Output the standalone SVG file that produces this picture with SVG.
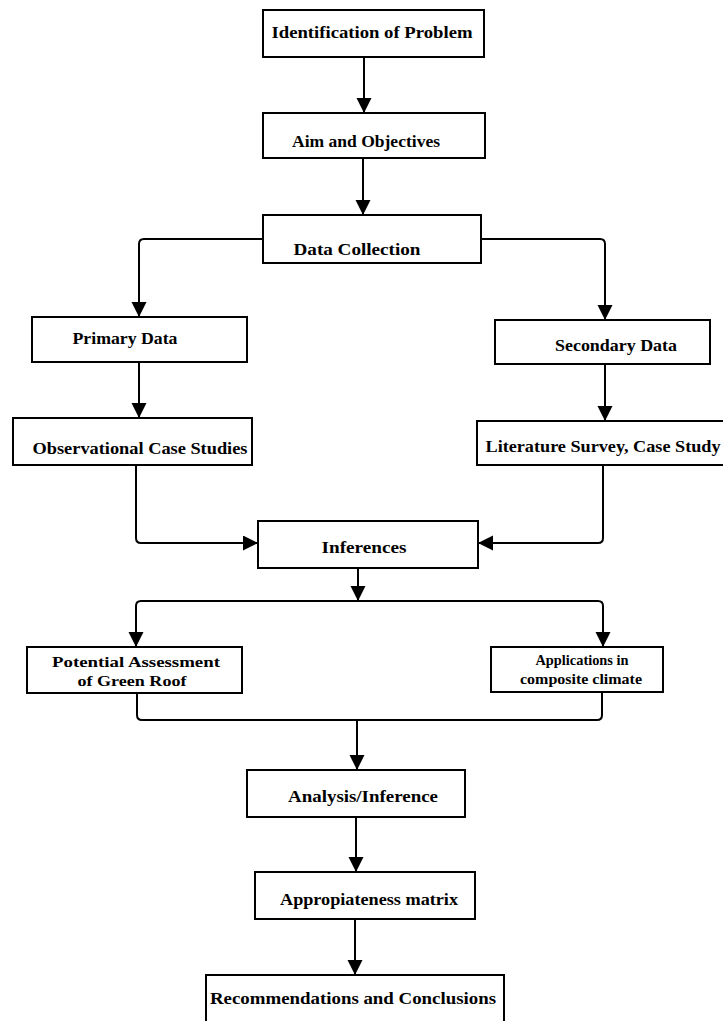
<svg xmlns="http://www.w3.org/2000/svg" width="723" height="1021" viewBox="0 0 723 1021">
<style>
.box{fill:#fff;stroke:#000;stroke-width:2}
.c{fill:none;stroke:#000;stroke-width:2}
.t{font-family:"Liberation Serif","Times New Roman",serif;font-weight:bold;font-size:16px;fill:#000;text-anchor:middle}
.s{font-size:14.5px}
</style>
<defs>
<marker id="ah" markerUnits="userSpaceOnUse" markerWidth="16" markerHeight="16" refX="15" refY="7.5" orient="auto">
<path d="M0,0 L15,7.5 L0,15 Z" fill="#000"/>
</marker>
</defs>
<rect width="723" height="1021" fill="#fff"/>
<g id="connectors">
<path class="c" d="M364,57 V113" marker-end="url(#ah)"/>
<path class="c" d="M363,158 V215" marker-end="url(#ah)"/>
<path class="c" d="M263,239 H144 Q139,239 139,244 V317" marker-end="url(#ah)"/>
<path class="c" d="M481,239 H600 Q605,239 605,244 V320" marker-end="url(#ah)"/>
<path class="c" d="M139,362 V418" marker-end="url(#ah)"/>
<path class="c" d="M605,364 V421" marker-end="url(#ah)"/>
<path class="c" d="M136,465 V538 Q136,543 141,543 H258" marker-end="url(#ah)"/>
<path class="c" d="M603,465 V538 Q603,543 598,543 H478" marker-end="url(#ah)"/>
<path class="c" d="M358,568 V601" marker-end="url(#ah)"/>
<path class="c" d="M358,601 H141 Q136,601 136,606 V647" marker-end="url(#ah)"/>
<path class="c" d="M358,601 H598 Q603,601 603,606 V647" marker-end="url(#ah)"/>
<path class="c" d="M137,693 V715 Q137,720 142,720 H597 Q602,720 602,715 V692"/>
<path class="c" d="M357,720 V770" marker-end="url(#ah)"/>
<path class="c" d="M356,817 V872" marker-end="url(#ah)"/>
<path class="c" d="M355,919 V975" marker-end="url(#ah)"/>
</g>
<g id="n1"><rect class="box" x="263" y="10" width="221" height="47"/><text class="t" x="372" y="38" textLength="201" lengthAdjust="spacingAndGlyphs">Identification of Problem</text></g>
<g id="n2"><rect class="box" x="263" y="113" width="222" height="45"/><text class="t" x="366" y="147" textLength="148" lengthAdjust="spacingAndGlyphs">Aim and Objectives</text></g>
<g id="n3"><rect class="box" x="263" y="215" width="218" height="48"/><text class="t" x="357" y="255" textLength="127" lengthAdjust="spacingAndGlyphs">Data Collection</text></g>
<g id="n4"><rect class="box" x="32" y="317" width="215" height="45"/><text class="t" x="125" y="344" textLength="105" lengthAdjust="spacingAndGlyphs">Primary Data</text></g>
<g id="n5"><rect class="box" x="495" y="320" width="215" height="44"/><text class="t" x="616" y="351" textLength="122" lengthAdjust="spacingAndGlyphs">Secondary Data</text></g>
<g id="n6"><rect class="box" x="13" y="418" width="239" height="47"/><text class="t" x="140" y="454" textLength="215" lengthAdjust="spacingAndGlyphs">Observational Case Studies</text></g>
<g id="n7"><rect class="box" x="477" y="421" width="250" height="44"/><text class="t" x="603" y="452" textLength="235" lengthAdjust="spacingAndGlyphs">Literature Survey, Case Study</text></g>
<g id="n8"><rect class="box" x="258" y="521" width="220" height="47"/><text class="t" x="364" y="553" textLength="85" lengthAdjust="spacingAndGlyphs">Inferences</text></g>
<g id="n9"><rect class="box" x="27" y="647" width="215" height="46"/><text class="t s" x="136" y="667" textLength="168" lengthAdjust="spacingAndGlyphs">Potential Assessment</text><text class="t s" x="132" y="686" textLength="109" lengthAdjust="spacingAndGlyphs">of Green Roof</text></g>
<g id="n10"><rect class="box" x="491" y="647" width="172" height="45"/><text class="t s" x="582" y="665" textLength="93" lengthAdjust="spacingAndGlyphs">Applications in</text><text class="t s" x="581" y="684" textLength="122" lengthAdjust="spacingAndGlyphs">composite climate</text></g>
<g id="n11"><rect class="box" x="247" y="770" width="218" height="47"/><text class="t" x="363" y="802" textLength="150" lengthAdjust="spacingAndGlyphs">Analysis/Inference</text></g>
<g id="n12"><rect class="box" x="255" y="872" width="220" height="47"/><text class="t" x="369" y="905" textLength="178" lengthAdjust="spacingAndGlyphs">Appropiateness matrix</text></g>
<g id="n13"><rect class="box" x="206" y="975" width="298" height="50"/><text class="t" x="353" y="1004" textLength="286" lengthAdjust="spacingAndGlyphs">Recommendations and Conclusions</text></g>
</svg>
